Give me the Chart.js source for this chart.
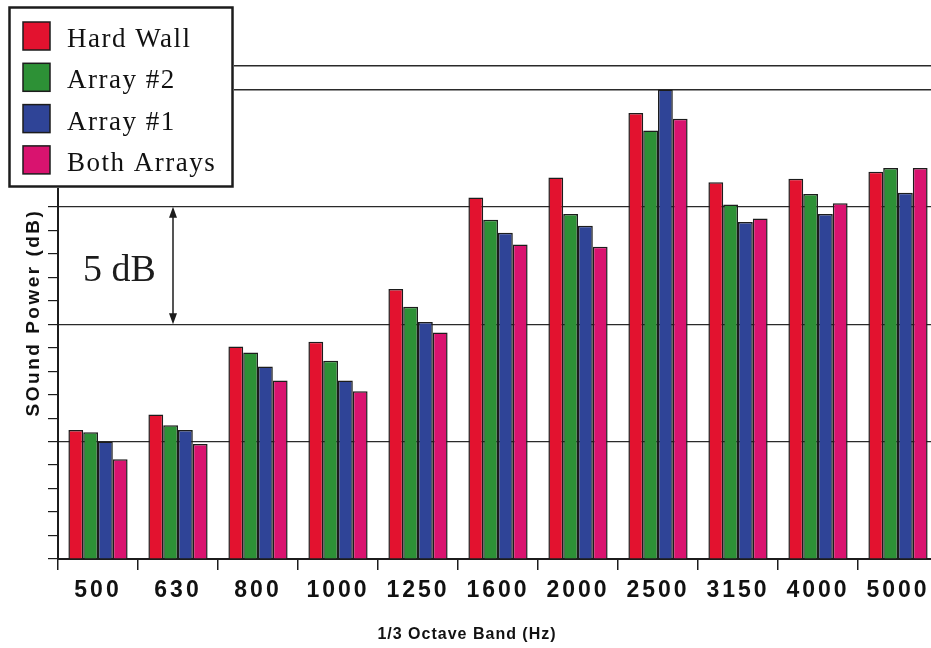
<!DOCTYPE html>
<html>
<head>
<meta charset="utf-8">
<script src="https://cdn.jsdelivr.net/npm/chart.js@4"></script>
<style>
  html, body { margin: 0; padding: 0; background: #fff; overflow: hidden; }
  #wrap { position: relative; width: 945px; height: 648px; }
</style>
</head>
<body>
<div id="wrap"><canvas id="chart"></canvas></div>
<script>
// 1/3 octave bands and relative sound power (dB above the axis floor)
const bands = ['500', '630', '800', '1000', '1250', '1600', '2000', '2500', '3150', '4000', '5000'];
const hardWall   = [5.5, 6.15, 9.05, 9.25, 11.5, 15.4, 16.25, 19.0, 16.05, 16.2, 16.5];
const array2     = [5.4, 5.7, 8.8, 8.45, 10.75, 14.45, 14.7, 18.25, 15.1, 15.55, 16.65];
const array1     = [5.0, 5.5, 8.2, 7.6, 10.1, 13.9, 14.2, 20.0, 14.35, 14.7, 15.6];
const bothArrays = [4.25, 4.9, 7.6, 7.15, 9.65, 13.4, 13.3, 18.75, 14.5, 15.15, 16.65];

const seriesNames = ['Hard Wall', 'Array #2', 'Array #1', 'Both Arrays'];
const seriesColors = ['#e3122f', '#2d9136', '#2f4497', '#d9136f'];

// y range and the "5 dB" marker between two gridlines
const yMax = 21;
const markLow = 10;
const markHigh = 15;

const ink = '#1c1c1c';

// letter spacing (and a nudge) per scale text, Chart.js has no option for it
function spaced(fn, spacing, shiftX = 0) {
  return function (...args) {
    const ctx = this.ctx;
    ctx.save();
    ctx.letterSpacing = spacing;
    ctx.translate(shiftX, 0);
    fn.apply(this, args);
    ctx.restore();
  };
}

const textSpacing = {
  id: 'textSpacing',
  afterLayout(chart) {
    const { x, y } = chart.scales;
    if (x.$spaced) return;
    x.drawLabels = spaced(x.drawLabels, '3px');
    x.drawTitle = spaced(x.drawTitle, '1px', -31);
    y.drawTitle = spaced(y.drawTitle, '2.5px');
    x.$spaced = y.$spaced = true;
  }
};

// double arrow with "5 dB"
const scaleMark = {
  id: 'scaleMark',
  afterDatasetsDraw(chart) {
    const { ctx, scales: { y }, chartArea } = chart;
    const top = y.getPixelForValue(markHigh);
    const bottom = y.getPixelForValue(markLow);
    const x = chartArea.left + 115;
    ctx.save();
    ctx.strokeStyle = ink;
    ctx.fillStyle = ink;
    ctx.lineWidth = 1.5;
    ctx.beginPath();
    ctx.moveTo(x, top + 6);
    ctx.lineTo(x, bottom - 6);
    ctx.stroke();
    ctx.beginPath();
    ctx.moveTo(x, top);
    ctx.lineTo(x - 4, top + 11);
    ctx.lineTo(x + 4, top + 11);
    ctx.closePath();
    ctx.moveTo(x, bottom);
    ctx.lineTo(x - 4, bottom - 11);
    ctx.lineTo(x + 4, bottom - 11);
    ctx.closePath();
    ctx.fill();
    ctx.font = '38px "Liberation Serif", "Times New Roman", serif';
    ctx.textBaseline = 'alphabetic';
    ctx.fillText('5 dB', chartArea.left + 25, (top + bottom) / 2 + 15);
    ctx.restore();
  }
};

// boxed legend over the top-left corner
const legendBox = {
  id: 'legendBox',
  afterDraw(chart) {
    const ctx = chart.ctx;
    ctx.save();
    ctx.fillStyle = '#fff';
    ctx.fillRect(8, 6, 226, 182);
    ctx.strokeStyle = ink;
    ctx.lineWidth = 2.5;
    ctx.strokeRect(9.5, 7.5, 223, 179);
    ctx.font = '27px "Liberation Serif", "Times New Roman", serif';
    ctx.letterSpacing = '1.5px';
    ctx.textBaseline = 'alphabetic';
    chart.data.datasets.forEach((ds, i) => {
      const cy = 36 + i * 41.3;
      ctx.fillStyle = ds.backgroundColor;
      ctx.fillRect(23, cy - 14, 27, 28);
      ctx.lineWidth = 1.5;
      ctx.strokeRect(23, cy - 14, 27, 28);
      ctx.fillStyle = '#111';
      ctx.fillText(ds.label, 67, cy + 11);
    });
    ctx.restore();
  }
};

const datasets = [hardWall, array2, array1, bothArrays].map((values, i) => ({
  label: seriesNames[i],
  data: values,
  backgroundColor: seriesColors[i],
  borderColor: ink,
  borderWidth: 1.5,
  borderSkipped: 'bottom',
  barPercentage: 1.0,
  categoryPercentage: 0.74
}));

new Chart(document.getElementById('chart'), {
  type: 'bar',
  data: { labels: bands, datasets },
  options: {
    responsive: true,
    maintainAspectRatio: false,
    animation: false,
    layout: { padding: { top: 66, right: 7, left: 0, bottom: 0 } },
    plugins: {
      legend: { display: false },
      tooltip: { enabled: false }
    },
    scales: {
      x: {
        grid: {
          offset: true,
          drawOnChartArea: false,
          tickLength: 11,
          tickColor: ink,
          lineWidth: 1.5
        },
        border: { color: ink, width: 2 },
        ticks: {
          color: '#111',
          padding: 7,
          font: { family: '"Liberation Sans", Arial, sans-serif', size: 23, weight: 'bold' }
        },
        title: {
          display: true,
          text: '1/3 Octave Band (Hz)',
          color: '#111',
          padding: { top: 0, bottom: 4 },
          font: { family: '"Liberation Sans", Arial, sans-serif', size: 16, weight: 'bold' }
        },
        afterFit(scale) { scale.height = 89; }
      },
      y: {
        min: 0,
        max: yMax,
        grid: {
          color: ctx => (ctx.tick.value % 5 === 0 || ctx.tick.value === yMax) ? '#2a2a2a' : 'rgba(0,0,0,0)',
          lineWidth: ctx => ctx.tick.value >= 20 ? 1.6 : 1.2,
          tickLength: 10,
          tickColor: ink
        },
        border: { color: ink, width: 2 },
        ticks: { stepSize: 1, display: false },
        title: {
          display: true,
          text: 'SOund Power (dB)',
          color: '#111',
          padding: { top: 22, bottom: 0 },
          font: { family: '"Liberation Sans", Arial, sans-serif', size: 19, weight: 'bold' }
        },
        afterFit(scale) { scale.width = 58; }
      }
    }
  },
  plugins: [textSpacing, scaleMark, legendBox]
});
</script>
</body>
</html>
